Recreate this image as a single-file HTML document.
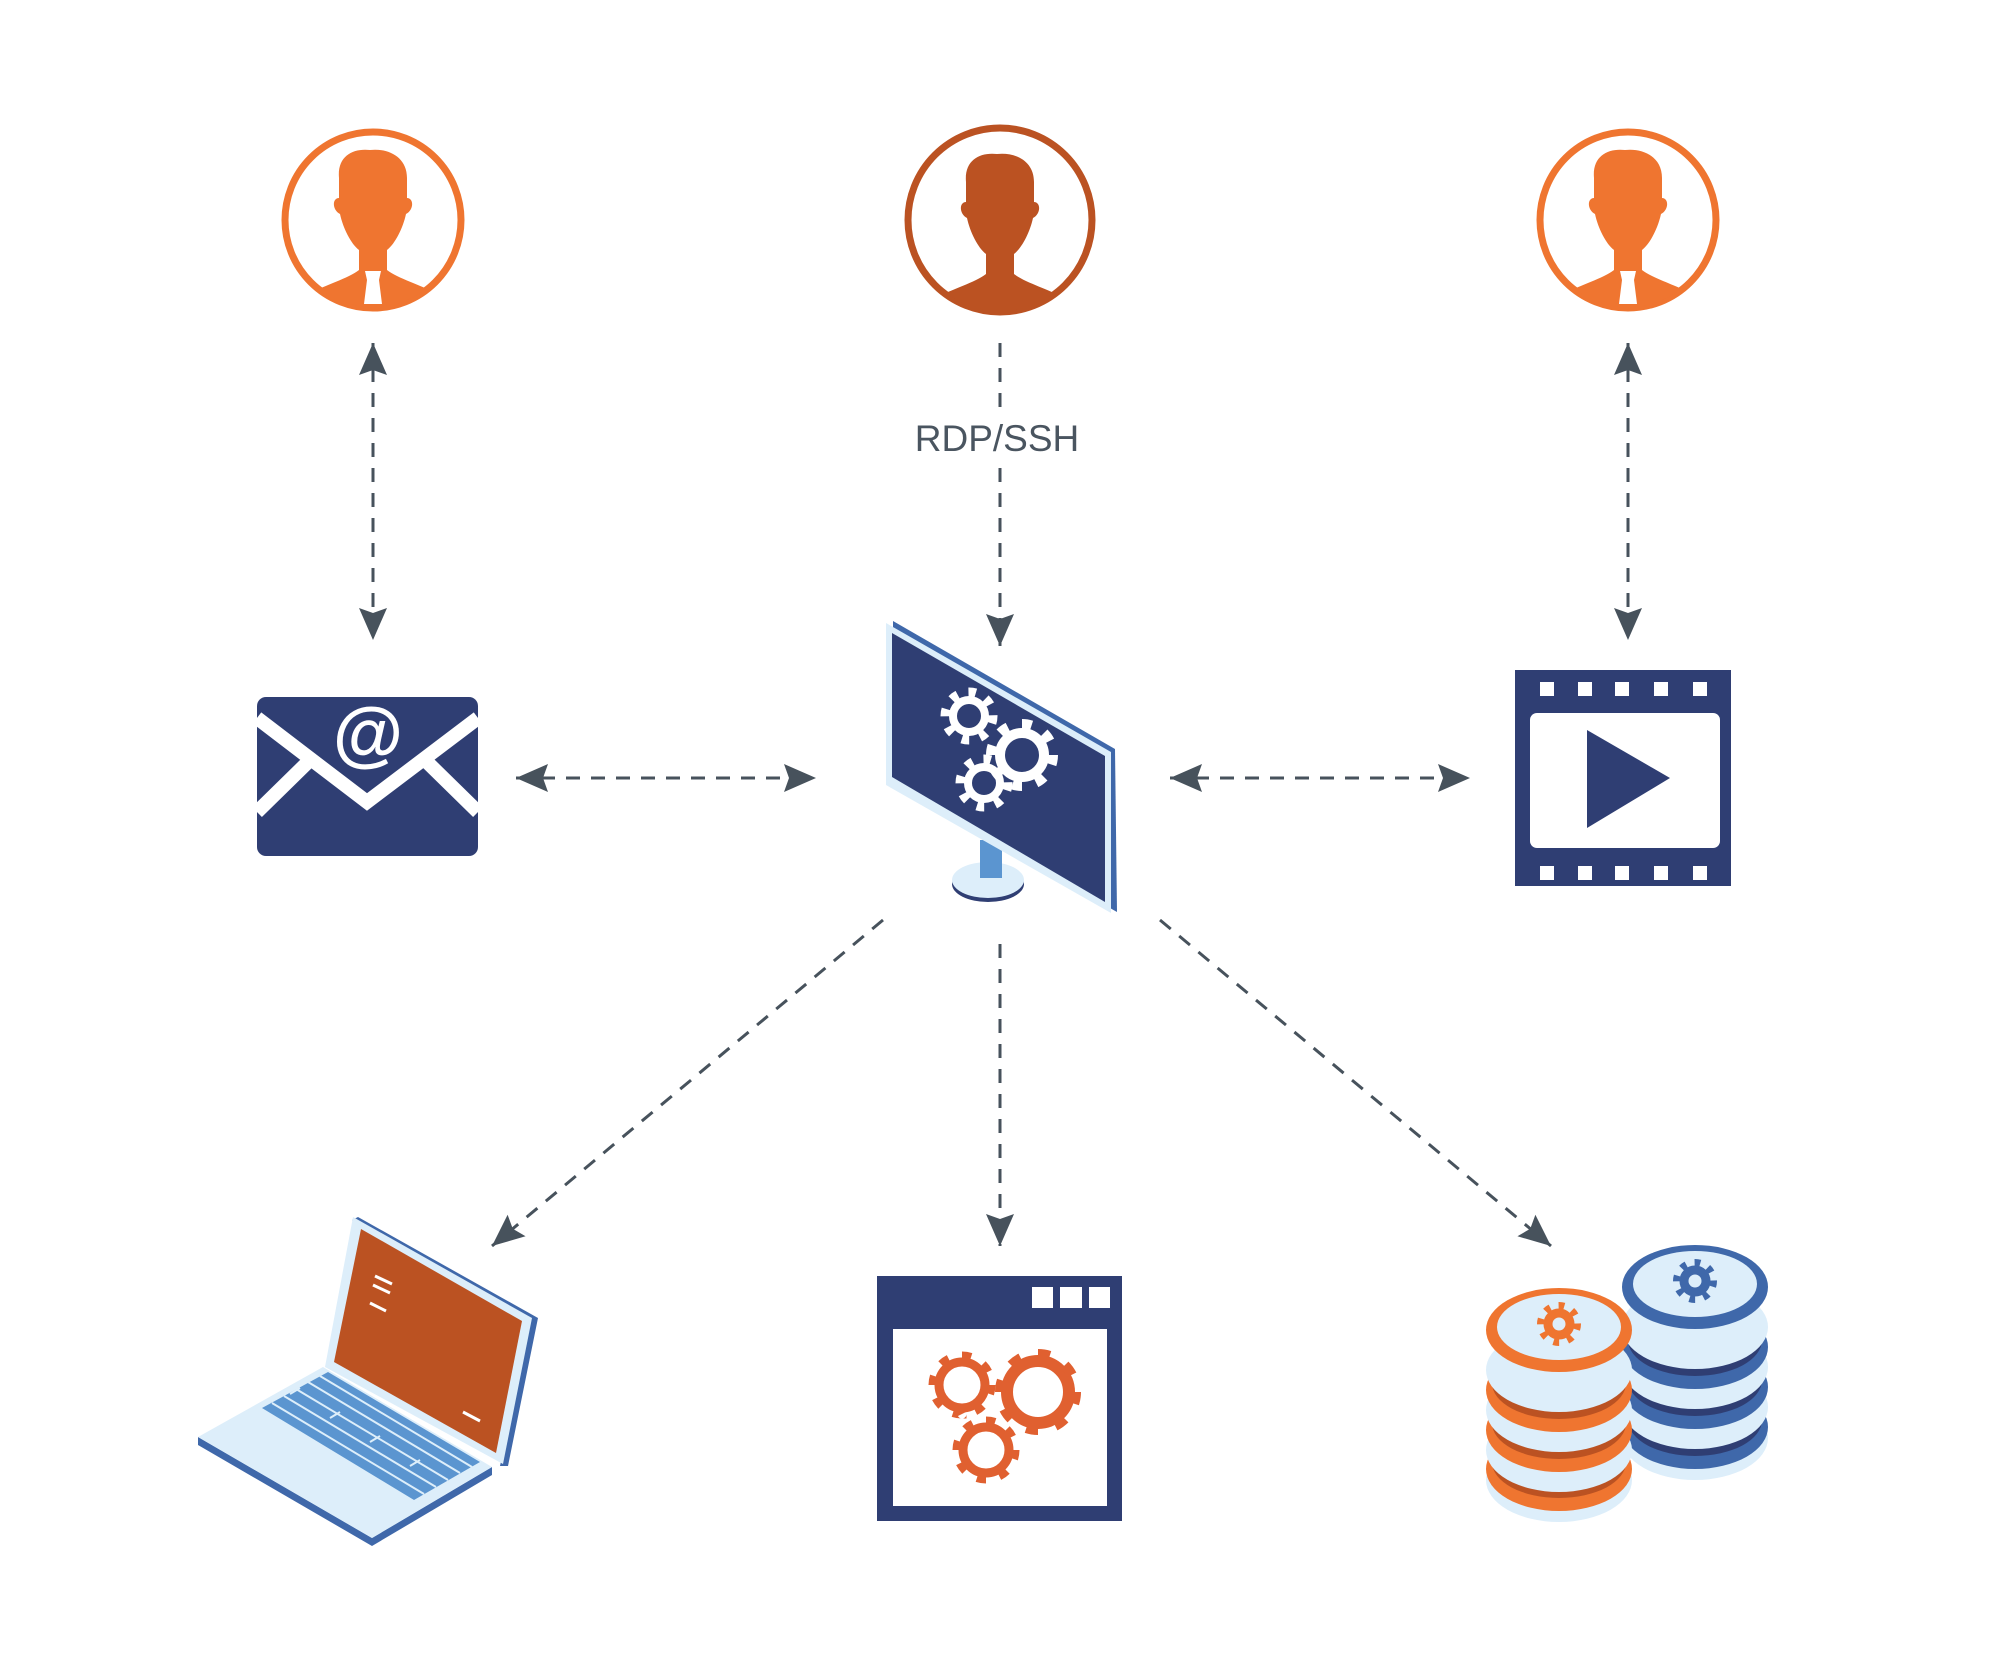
<!DOCTYPE html>
<html><head><meta charset="utf-8"><style>html,body{margin:0;padding:0;background:#fff}svg{display:block}</style></head>
<body>
<svg width="1999" height="1659" viewBox="0 0 1999 1659" xmlns="http://www.w3.org/2000/svg">
<defs>
<marker id="ah" viewBox="-34 -16 36 32" refX="0" refY="0" markerWidth="36" markerHeight="32" markerUnits="userSpaceOnUse" orient="auto-start-reverse">
<path d="M0,0 L-32,-14 L-27,0 L-32,14 Z" fill="#47525c"/>
</marker>
<clipPath id="c1"><circle cx="373" cy="220" r="87"/></clipPath>
<clipPath id="c2"><circle cx="1000" cy="220" r="91"/></clipPath>
<clipPath id="c3"><circle cx="1628" cy="220" r="87"/></clipPath>
<g id="person">
<path d="M-34,-50 C-36,-72 -20,-80 -3,-78 C14,-80 34,-72 34,-50 L34,-30 C41,-30 41,-18 33,-14 C30,0 22,16 14,22 L14,42 C24,50 50,58 60,64 L60,120 L-60,120 L-60,64 C-50,58 -24,50 -14,42 L-14,22 C-22,16 -30,0 -33,-14 C-41,-18 -41,-30 -34,-30 Z"/>
</g>
</defs>

<!-- users -->
<g>
<circle cx="373" cy="220" r="88" fill="#fff" stroke="#ef7530" stroke-width="7"/>
<g clip-path="url(#c1)" fill="#ef7530"><use href="#person" x="373" y="228"/></g>
<path d="M365,271 L381,271 L379,280 L382,304 L364,304 L367,280 Z" fill="#fff"/>
</g>
<g>
<circle cx="1000" cy="220" r="92" fill="#fff" stroke="#bb5222" stroke-width="7"/>
<g clip-path="url(#c2)" fill="#bb5222"><use href="#person" x="1000" y="232"/></g>
</g>
<g>
<circle cx="1628" cy="220" r="88" fill="#fff" stroke="#ef7530" stroke-width="7"/>
<g clip-path="url(#c3)" fill="#ef7530"><use href="#person" x="1628" y="228"/></g>
<path d="M1620,271 L1636,271 L1634,280 L1637,304 L1619,304 L1622,280 Z" fill="#fff"/>
</g>

<!-- connectors -->
<g stroke="#47525c" stroke-width="3" stroke-dasharray="14 11" fill="none">
<line x1="373" y1="343" x2="373" y2="640" marker-start="url(#ah)" marker-end="url(#ah)"/>
<line x1="1628" y1="343" x2="1628" y2="640" marker-start="url(#ah)" marker-end="url(#ah)"/>
<line x1="1000" y1="343" x2="1000" y2="646" marker-end="url(#ah)"/>
<line x1="516" y1="778" x2="816" y2="778" marker-start="url(#ah)" marker-end="url(#ah)"/>
<line x1="1170" y1="778" x2="1470" y2="778" marker-start="url(#ah)" marker-end="url(#ah)"/>
<line x1="883" y1="920" x2="492" y2="1246" marker-end="url(#ah)"/>
<line x1="1000" y1="944" x2="1000" y2="1246" marker-end="url(#ah)"/>
<line x1="1160" y1="920" x2="1551" y2="1246" marker-end="url(#ah)"/>
</g>
<rect x="895" y="410" width="210" height="56" fill="#fff"/>
<text x="997" y="451" text-anchor="middle" font-family="Liberation Sans, sans-serif" font-size="37" fill="#4a5560">RDP/SSH</text>

<!-- envelope -->
<rect x="257" y="697" width="221" height="159" rx="9" fill="#2f3e73"/>
<polyline points="257,718 367,802 478,718" fill="none" stroke="#fff" stroke-width="14"/>
<line x1="257" y1="812" x2="308" y2="762" stroke="#fff" stroke-width="14"/>
<line x1="478" y1="812" x2="427" y2="762" stroke="#fff" stroke-width="14"/>
<text x="368" y="758" text-anchor="middle" font-family="Liberation Sans, sans-serif" font-weight="bold" font-size="72" fill="#fff">@</text>

<!-- film -->
<rect x="1515" y="670" width="216" height="216" fill="#2f3e73"/>
<rect x="1530" y="713" width="190" height="135" rx="7" fill="#fff"/>
<g fill="#fff">
<rect x="1540" y="682" width="14" height="14"/><rect x="1578" y="682" width="14" height="14"/><rect x="1615" y="682" width="14" height="14"/><rect x="1654" y="682" width="14" height="14"/><rect x="1693" y="682" width="14" height="14"/>
<rect x="1540" y="866" width="14" height="14"/><rect x="1578" y="866" width="14" height="14"/><rect x="1615" y="866" width="14" height="14"/><rect x="1654" y="866" width="14" height="14"/><rect x="1693" y="866" width="14" height="14"/>
</g>
<polygon points="1587,730 1587,828 1670,778" fill="#2f3e73"/>

<!-- monitor -->
<ellipse cx="988" cy="884" rx="36" ry="18" fill="#2f3e73"/>
<ellipse cx="988" cy="880" rx="36" ry="18" fill="#ddeefa"/>
<rect x="980" y="840" width="22" height="38" fill="#5b95d0"/>
<polygon points="893,621 1115,749 1117,912 893,785" fill="#3f68aa"/>
<polygon points="886,623 1111,752 1111,913 886,785" fill="#ddeefa"/>
<polygon points="892,633 1105,756 1105,902 892,777" fill="#2f3e73"/>
<g fill="none" stroke="#fff">
<circle cx="1022" cy="755" r="22" stroke-width="10"/>
<circle cx="1022" cy="755" r="31" stroke-width="10" pathLength="80" stroke-dasharray="4 6"/>
<circle cx="969" cy="716" r="16" stroke-width="8"/>
<circle cx="969" cy="716" r="24" stroke-width="9" pathLength="80" stroke-dasharray="4 6"/>
<circle cx="984" cy="783" r="16" stroke-width="8"/>
<circle cx="984" cy="783" r="24" stroke-width="9" pathLength="80" stroke-dasharray="4 6"/>
</g>

<!-- window -->
<rect x="877" y="1276" width="245" height="245" fill="#2f3e73"/>
<rect x="893" y="1329" width="214" height="177" fill="#fff"/>
<g fill="#fff"><rect x="1032" y="1287" width="21" height="21"/><rect x="1060" y="1287" width="22" height="21"/><rect x="1089" y="1287" width="21" height="21"/></g>
<g fill="none" stroke="#e06030">
<circle cx="1038" cy="1392" r="31" stroke-width="12"/>
<circle cx="1038" cy="1392" r="38" stroke-width="10" pathLength="80" stroke-dasharray="4 6"/>
<circle cx="962" cy="1385" r="23" stroke-width="9"/>
<circle cx="962" cy="1385" r="29" stroke-width="9" pathLength="80" stroke-dasharray="4 6"/>
<circle cx="986" cy="1450" r="23" stroke-width="9"/>
<circle cx="986" cy="1450" r="29" stroke-width="9" pathLength="80" stroke-dasharray="4 6"/>
</g>

<!-- laptop -->
<polygon points="198,1437 198,1445 372,1546 492,1475 492,1467 372,1538" fill="#3f68aa"/>
<polygon points="198,1437 323,1367 492,1467 372,1538" fill="#ddeefa"/>
<polygon points="262,1408 328,1372 480,1462 414,1500" fill="#5b95d0"/>
<g stroke="#ddeefa" stroke-width="2">
<line x1="272" y1="1403" x2="424" y2="1494"/><line x1="284" y1="1396" x2="436" y2="1487"/><line x1="296" y1="1389" x2="448" y2="1480"/><line x1="308" y1="1382" x2="460" y2="1473"/><line x1="320" y1="1376" x2="472" y2="1467"/>
<line x1="300" y1="1388" x2="290" y2="1394"/><line x1="340" y1="1412" x2="330" y2="1418"/><line x1="380" y1="1436" x2="370" y2="1442"/><line x1="420" y1="1460" x2="410" y2="1466"/>
</g>
<polygon points="358,1217 538,1318 508,1466 500,1466 530,1320 352,1220" fill="#3f68aa"/>
<polygon points="353,1217 532,1318 503,1464 325,1367" fill="#ddeefa"/>
<polygon points="361,1229 522,1321 496,1453 334,1362" fill="#bb5222"/>
<g stroke="#fff" stroke-width="3">
<line x1="375" y1="1276" x2="392" y2="1284"/><line x1="373" y1="1285" x2="390" y2="1293"/><line x1="370" y1="1303" x2="386" y2="1311"/><line x1="463" y1="1412" x2="480" y2="1421"/>
</g>

<!-- coins blue -->
<g>
<g><ellipse cx="1695" cy="1438" rx="73" ry="42" fill="#ddeefa"/><ellipse cx="1695" cy="1427" rx="73" ry="42" fill="#3f68aa"/><ellipse cx="1695" cy="1420" rx="67" ry="36" fill="#2f3e73"/><ellipse cx="1695" cy="1407" rx="73" ry="42" fill="#ddeefa"/></g>
<g><ellipse cx="1695" cy="1387" rx="73" ry="42" fill="#3f68aa"/><ellipse cx="1695" cy="1380" rx="67" ry="36" fill="#2f3e73"/><ellipse cx="1695" cy="1367" rx="73" ry="42" fill="#ddeefa"/></g>
<g><ellipse cx="1695" cy="1347" rx="73" ry="42" fill="#3f68aa"/><ellipse cx="1695" cy="1340" rx="67" ry="36" fill="#2f3e73"/><ellipse cx="1695" cy="1327" rx="73" ry="42" fill="#ddeefa"/></g>
<ellipse cx="1695" cy="1287" rx="73" ry="42" fill="#3f68aa"/>
<ellipse cx="1695" cy="1284" rx="62" ry="33" fill="#ddeefa"/>
<circle cx="1695" cy="1281" r="11" fill="none" stroke="#3f68aa" stroke-width="9"/>
<circle cx="1695" cy="1281" r="18" fill="none" stroke="#3f68aa" stroke-width="8" pathLength="80" stroke-dasharray="4 6"/>
</g>
<!-- coins orange -->
<g>
<g><ellipse cx="1559" cy="1480" rx="73" ry="42" fill="#ddeefa"/><ellipse cx="1559" cy="1469" rx="73" ry="42" fill="#ef7530"/><ellipse cx="1559" cy="1462" rx="67" ry="36" fill="#bb5222"/><ellipse cx="1559" cy="1450" rx="73" ry="42" fill="#ddeefa"/></g>
<g><ellipse cx="1559" cy="1430" rx="73" ry="42" fill="#ef7530"/><ellipse cx="1559" cy="1423" rx="67" ry="36" fill="#bb5222"/><ellipse cx="1559" cy="1410" rx="73" ry="42" fill="#ddeefa"/></g>
<g><ellipse cx="1559" cy="1390" rx="73" ry="42" fill="#ef7530"/><ellipse cx="1559" cy="1383" rx="67" ry="36" fill="#bb5222"/><ellipse cx="1559" cy="1370" rx="73" ry="42" fill="#ddeefa"/></g>
<ellipse cx="1559" cy="1330" rx="73" ry="42" fill="#ef7530"/>
<ellipse cx="1559" cy="1327" rx="62" ry="33" fill="#ddeefa"/>
<circle cx="1559" cy="1324" r="11" fill="none" stroke="#ef7530" stroke-width="9"/>
<circle cx="1559" cy="1324" r="18" fill="none" stroke="#ef7530" stroke-width="8" pathLength="80" stroke-dasharray="4 6"/>
</g>
</svg>
</body></html>
